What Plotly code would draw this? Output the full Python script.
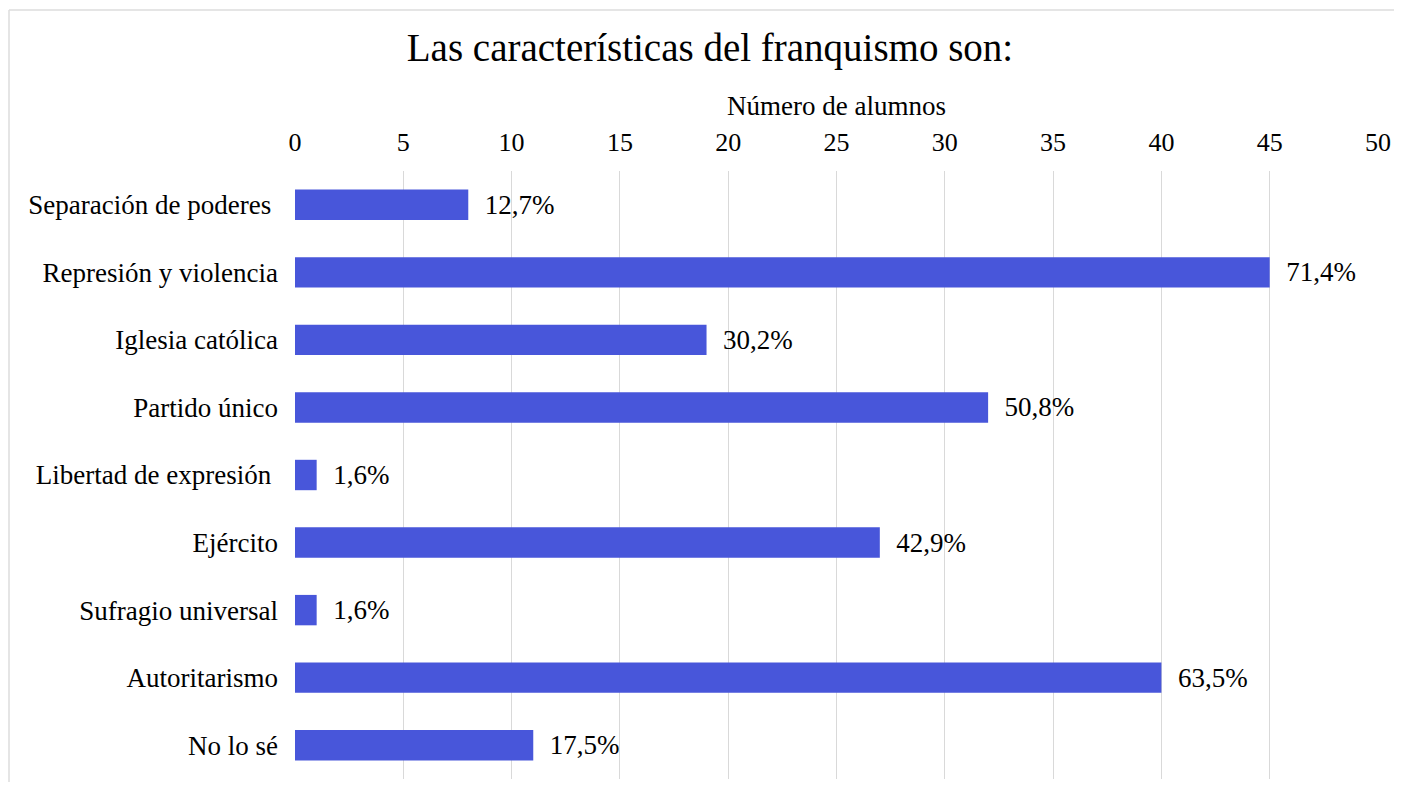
import plotly.graph_objects as go

# Encuesta: características del franquismo (número de alumnos)
categorias = [
    "Separación de poderes\u00a0",
    "Represión y violencia",
    "Iglesia católica",
    "Partido único",
    "Libertad de expresión\u00a0",
    "Ejército",
    "Sufragio universal",
    "Autoritarismo",
    "No lo sé",
]
alumnos = [8, 45, 19, 32, 1, 27, 1, 40, 11]
porcentajes = ["12,7%", "71,4%", "30,2%", "50,8%", "1,6%", "42,9%", "1,6%", "63,5%", "17,5%"]

serif = "Liberation Serif, Times New Roman, serif"

# the page body has an 8px margin, so the figure is a bit smaller than the window
W, H = 1386, 774

fig = go.Figure(go.Bar(
    x=alumnos,
    y=categorias,
    orientation="h",
    marker=dict(color="#4856DA", line=dict(width=0)),
    width=0.45,
    text=porcentajes,
    texttemplate="\u00a0\u00a0%{text}",
    textposition="outside",
    textfont=dict(family=serif, size=27, color="black"),
    cliponaxis=False,
))

# thin grey frame at the top and left edge of the picture
bx = (9 - 295) / 1083
by = (779 - 10) / 608
frame = dict(color="#dcdcdc", width=1.5)

fig.update_layout(
    width=W, height=H,
    margin=dict(l=287, r=16, t=163, b=3),
    paper_bgcolor="white", plot_bgcolor="white",
    font=dict(family=serif, color="black"),
    title=dict(text="Las características del franquismo son:",
               x=702 / W, xanchor="center", y=1 - 39 / H, yanchor="middle",
               font=dict(family=serif, size=39, color="black")),
    showlegend=False,
    shapes=[
        dict(type="line", xref="paper", yref="paper", x0=bx, x1=1.2, y0=by, y1=by,
             line=frame, layer="below"),
        dict(type="line", xref="paper", yref="paper", x0=bx, x1=bx, y0=-0.2, y1=by,
             line=frame, layer="below"),
    ],
)

fig.update_xaxes(
    side="top", range=[0, 50], dtick=5,
    showgrid=True, gridcolor="#d9d9d9", gridwidth=1,
    zeroline=False, showline=False,
    tickfont=dict(family=serif, size=26),
    ticklabelstandoff=14,
    title=dict(text="Número de alumnos", font=dict(family=serif, size=27), standoff=4),
)
fig.update_yaxes(
    autorange="reversed", showgrid=False, showline=False, zeroline=False,
    tickfont=dict(family=serif, size=27),
    ticklabelstandoff=16,
)

fig.write_html("out.html")
